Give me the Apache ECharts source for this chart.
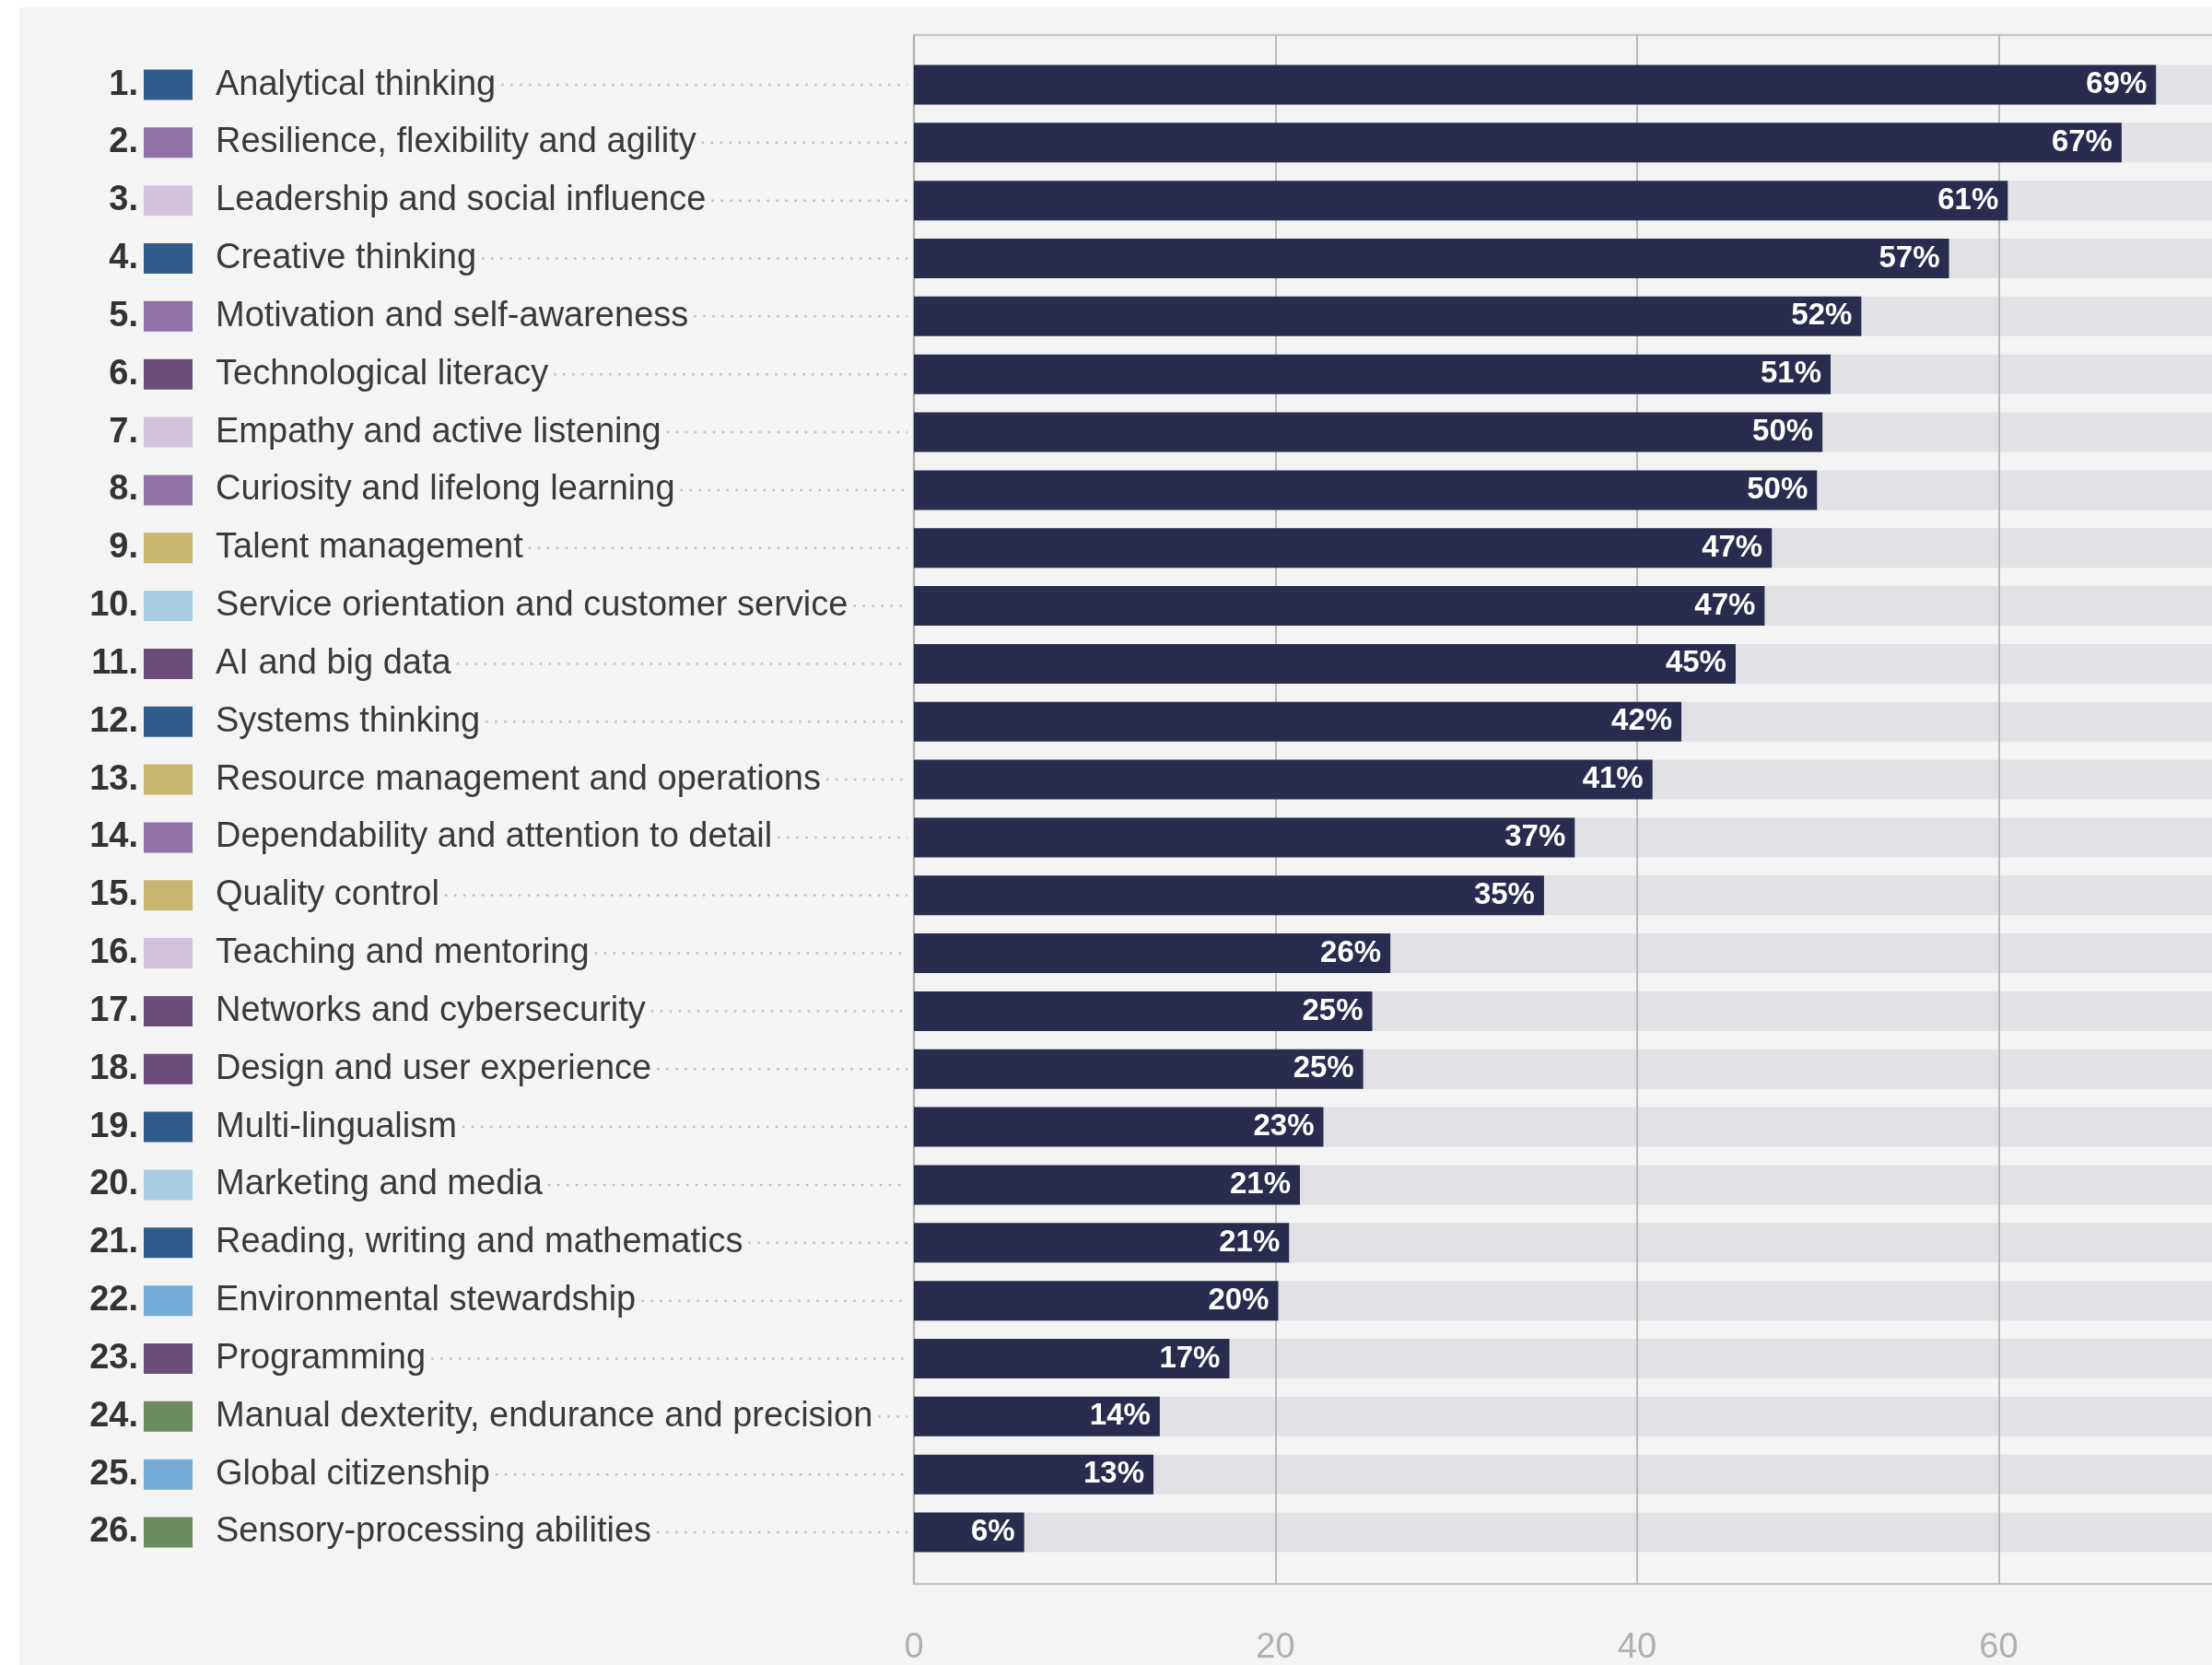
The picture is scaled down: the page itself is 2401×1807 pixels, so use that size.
<!DOCTYPE html>
<html>
<head>
<meta charset="utf-8">
<script src="https://cdn.jsdelivr.net/npm/echarts@6/dist/echarts.min.js"></script>
<style>
html,body{margin:0;padding:0;background:#ffffff;width:2401px;height:1807px;overflow:hidden}
#chart{position:absolute;left:21px;top:8px;width:2380px;height:1799px}
</style>
</head>
<body>
<div id="chart"></div>
<script>
// ---------------- data ----------------
const categories = [
  "Analytical thinking",
  "Resilience, flexibility and agility",
  "Leadership and social influence",
  "Creative thinking",
  "Motivation and self-awareness",
  "Technological literacy",
  "Empathy and active listening",
  "Curiosity and lifelong learning",
  "Talent management",
  "Service orientation and customer service",
  "AI and big data",
  "Systems thinking",
  "Resource management and operations",
  "Dependability and attention to detail",
  "Quality control",
  "Teaching and mentoring",
  "Networks and cybersecurity",
  "Design and user experience",
  "Multi-lingualism",
  "Marketing and media",
  "Reading, writing and mathematics",
  "Environmental stewardship",
  "Programming",
  "Manual dexterity, endurance and precision",
  "Global citizenship",
  "Sensory-processing abilities"
];
const groups = [
  "cognitive", "selfEfficacy", "workingWithOthers", "cognitive", "selfEfficacy",
  "technology", "workingWithOthers", "selfEfficacy", "management", "engagement",
  "technology", "cognitive", "management", "selfEfficacy", "management",
  "workingWithOthers", "technology", "technology", "cognitive", "engagement",
  "cognitive", "ethics", "technology", "physical", "ethics", "physical"
];
const values = [
  68.7, 66.8, 60.5, 57.25, 52.4, 50.7, 50.25, 49.95, 47.45, 47.05,
  45.45, 42.45, 40.85, 36.55, 34.85, 26.35, 25.35, 24.85, 22.65, 21.35,
  20.75, 20.15, 17.45, 13.6, 13.25, 6.1
];
const valueLabels = [
  "69%", "67%", "61%", "57%", "52%", "51%", "50%", "50%", "47%", "47%",
  "45%", "42%", "41%", "37%", "35%", "26%", "25%", "25%", "23%", "21%",
  "21%", "20%", "17%", "14%", "13%", "6%"
];
const groupColors = {
  cognitive: "#305d8e",
  selfEfficacy: "#9172a8",
  workingWithOthers: "#d3c2da",
  technology: "#6b4d7c",
  management: "#c8b56f",
  engagement: "#a8cde2",
  ethics: "#72acd6",
  physical: "#6a8c60"
};

// ---------------- styling ----------------
const FONT = '"Liberation Sans", Arial, Helvetica, sans-serif';
const LABEL_SIZE = 38;
const NUM_MARGIN = 842;     // rank number right edge distance from axis
const NAME_MARGIN = 836;    // swatch start distance from axis
const SW_W = 53, SW_H = 33, TEXT_GAP = 25;

const measureCtx = document.createElement('canvas').getContext('2d');
measureCtx.font = LABEL_SIZE + 'px ' + FONT;

const rich = {
  t: { fontFamily: FONT, fontSize: LABEL_SIZE, color: '#3a3a3a', padding: [0, 0, 0, TEXT_GAP] }
};
Object.keys(groupColors).forEach(function (g) {
  rich['sw_' + g] = { width: SW_W, height: SW_H, backgroundColor: groupColors[g] };
});

const chart = echarts.init(document.getElementById('chart'));

const option = {
  backgroundColor: '#f4f4f4',
  animation: false,
  grid: [
    { left: 971, top: 30, width: 1570, height: 1681, outerBoundsMode: 'none', containLabel: false,
      show: true, borderColor: '#c6c6c6', borderWidth: 2.5, backgroundColor: 'transparent' },
    { left: 971, top: 52.6, width: 1570, height: 1633.8, outerBoundsMode: 'none', containLabel: false }
  ],
  xAxis: [
    {
      gridIndex: 0, type: 'value', min: 0, max: 80, interval: 20, z: 2,
      axisLine: { show: false }, axisTick: { show: false },
      splitLine: { show: true, lineStyle: { color: '#a8a8a8', width: 1.5 } },
      axisLabel: { fontFamily: FONT, fontSize: 38, color: '#b0b0b0', margin: 51 }
    },
    {
      gridIndex: 1, type: 'value', min: 0, max: 80, interval: 20, show: false,
      splitLine: { show: false }
    }
  ],
  yAxis: [
    {
      gridIndex: 1, type: 'category', inverse: true, data: categories, position: 'left',
      axisLine: { show: false }, axisTick: { show: false }, splitLine: { show: false },
      axisLabel: {
        margin: NUM_MARGIN, align: 'right',
        fontFamily: FONT, fontSize: LABEL_SIZE, fontWeight: 'bold', color: '#333333',
        formatter: function (v, i) { return (i + 1) + '.'; }
      }
    },
    {
      gridIndex: 1, type: 'category', inverse: true, data: categories, position: 'left', offset: 0,
      axisLine: { show: false }, axisTick: { show: false }, splitLine: { show: false },
      axisLabel: {
        margin: NAME_MARGIN, align: 'left',
        formatter: function (v, i) { return '{sw_' + groups[i] + '|}{t|' + v + '}'; },
        rich: rich
      }
    },
    {
      gridIndex: 0, type: 'value', min: 0, max: 1, show: false,
      splitLine: { show: false }
    }
  ],
  series: [
    {
      type: 'bar', xAxisIndex: 1, yAxisIndex: 0, z: 1, silent: true,
      data: values, barWidth: 43,
      itemStyle: { color: 'rgba(0,0,0,0)' },
      showBackground: true,
      backgroundStyle: { color: '#e1e1e6' }
    },
    {
      type: 'bar', xAxisIndex: 1, yAxisIndex: 0, z: 3,
      data: values, barWidth: 43, barGap: '-100%',
      itemStyle: { color: '#292b4f' },
      label: {
        show: true, position: 'insideRight', distance: 10,
        fontFamily: FONT, fontSize: 33, fontWeight: 'bold', color: '#ffffff',
        formatter: function (p) { return valueLabels[p.dataIndex]; }
      }
    },
    {
      type: 'custom', xAxisIndex: 1, yAxisIndex: 0, z: 2, clip: false, silent: true,
      data: categories.map(function (c, i) { return [0, i]; }),
      renderItem: function (params, api) {
        const i = api.value(1);
        const p = api.coord([0, i]);
        const w = measureCtx.measureText(categories[i]).width;
        const x1 = p[0] - NAME_MARGIN + SW_W + TEXT_GAP + w + 6;
        const x2 = p[0] - 7;
        return {
          type: 'line',
          shape: { x1: x1, y1: p[1], x2: x2, y2: p[1] },
          style: { stroke: '#c2c2c2', lineWidth: 2.5, lineDash: [2.5, 7.5] }
        };
      }
    }
  ]
};
chart.setOption(option);
</script>
</body>
</html>
